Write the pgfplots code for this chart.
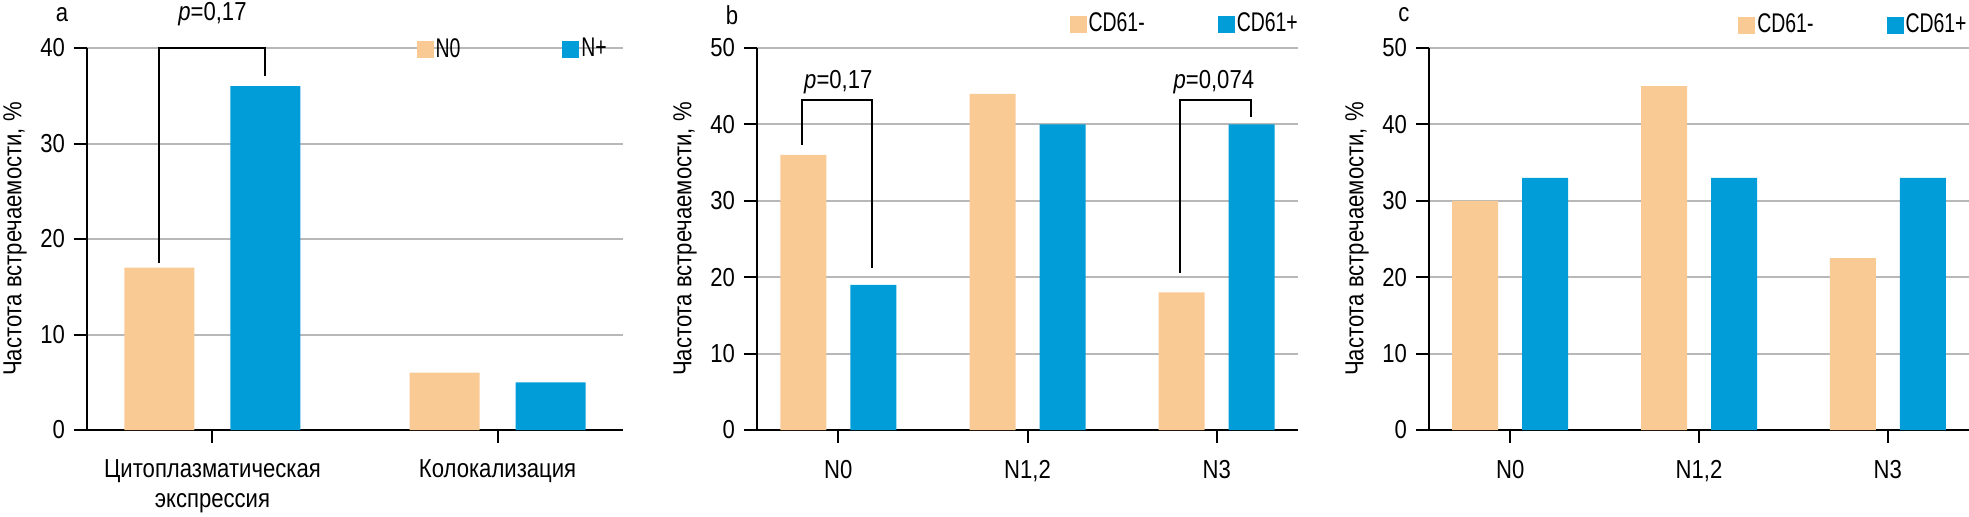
\documentclass[border=0pt]{standalone}
\usepackage{fontspec}
\setmainfont{Liberation Sans}[FakeStretch=0.85]
\newfontfamily\legfont{Liberation Sans}[FakeStretch=0.72]
\usepackage{pgfplots}
\pgfplotsset{compat=1.18}

\definecolor{cdneg}{HTML}{FACA94}
\definecolor{cdpos}{HTML}{009DD8}
\definecolor{gridgray}{HTML}{B8B8B8}

\pgfplotsset{
  panel/.style={
    scale only axis, anchor=south west,
    height=191pt, ymin=0,
    axis x line=bottom, axis y line=left,
    axis line style={-, line width=1pt, black},
    tick style={line width=1pt, black},
    tick align=outside, major tick length=6.5pt,
    ymajorgrids, grid style={gridgray, line width=1pt},
    /pgf/number format/assume math mode=true,
    ylabel={Частота встречаемости, \%},
    ylabel style={at={([xshift=-36pt]axis description cs:0,0.5)}, anchor=center},
    xticklabel style={yshift=-4pt},
    clip=false,
    legend style={draw=none, fill=none, legend columns=2, anchor=west,
      font={\fontsize{13.5pt}{15pt}\legfont}, nodes={inner sep=1pt}},
  },
  sq/.style={legend image code/.code={\fill[##1] (0pt,-4.25pt) rectangle (8.5pt,4.25pt);}},
}

\begin{document}
\fontsize{13pt}{15pt}\selectfont
\begin{tikzpicture}
\useasboundingbox (0,0) rectangle (984.5pt,258pt);

% a
\begin{axis}[panel, at={(43.5pt,43pt)}, width=268pt,
  xmin=-0.44, xmax=1.44, ymax=40, ytick={0,10,...,40},
  xtick={0,1}, xticklabels={{Цитоплазматическая\\экспрессия},{Колокализация}},
  xticklabel style={align=center},
  legend style={at={(0.603,0.996)}, /tikz/every even column/.append style={column sep=50pt}}]
\addplot[ybar, bar width=35pt, bar shift=-26.5pt, fill=cdneg, draw=none, sq] coordinates {(0,17) (1,6)};
\addplot[ybar, bar width=35pt, bar shift=26.5pt, fill=cdpos, draw=none, sq] coordinates {(0,36) (1,5)};
\legend{N0, N+}
\draw[line width=1pt] (axis cs:-0.186,17.5) -- (axis cs:-0.186,40) -- (axis cs:0.186,40) -- (axis cs:0.186,37.1);
\node at (axis cs:0,43.5) {{\itshape p}=0,17};
\end{axis}
\node at (31pt,250.5pt) {a};

% b
\begin{axis}[panel, at={(378.5pt,43pt)}, width=270.5pt,
  xmin=-0.43, xmax=2.43, ymax=50, ytick={0,10,...,50},
  xtick={0,1,2}, xticklabels={N0,{N1,2},N3},
  legend style={at={(0.566,1.062)}, /tikz/every even column/.append style={column sep=35.5pt}}]
\addplot[ybar, bar width=23pt, bar shift=-17.5pt, fill=cdneg, draw=none, sq] coordinates {(0,36) (1,44) (2,18)};
\addplot[ybar, bar width=23pt, bar shift=17.5pt, fill=cdpos, draw=none, sq] coordinates {(0,19) (1,40) (2,40)};
\legend{CD61-, CD61+}
\draw[line width=1pt] (axis cs:-0.19,37.3) -- (axis cs:-0.19,43.2) -- (axis cs:0.18,43.2) -- (axis cs:0.18,21.2);
\node at (axis cs:0,45.5) {{\itshape p}=0,17};
\draw[line width=1pt] (axis cs:1.804,20.5) -- (axis cs:1.804,43.2) -- (axis cs:2.18,43.2) -- (axis cs:2.18,41.0);
\node at (axis cs:1.985,45.5) {{\itshape p}=0,074};
\end{axis}
\node at (366pt,250.5pt) {b};

% c
\begin{axis}[panel, at={(714.5pt,43pt)}, width=270pt,
  xmin=-0.43, xmax=2.43, ymax=50, ytick={0,10,...,50},
  xtick={0,1,2}, xticklabels={N0,{N1,2},N3},
  legend style={at={(0.561,1.06)}, /tikz/every even column/.append style={column sep=35.5pt}}]
\addplot[ybar, bar width=23pt, bar shift=-17.5pt, fill=cdneg, draw=none, sq] coordinates {(0,30) (1,45) (2,22.5)};
\addplot[ybar, bar width=23pt, bar shift=17.5pt, fill=cdpos, draw=none, sq] coordinates {(0,33) (1,33) (2,33)};
\legend{CD61-, CD61+}
\end{axis}
\node at (702pt,250.5pt) {c};
\end{tikzpicture}
\end{document}
